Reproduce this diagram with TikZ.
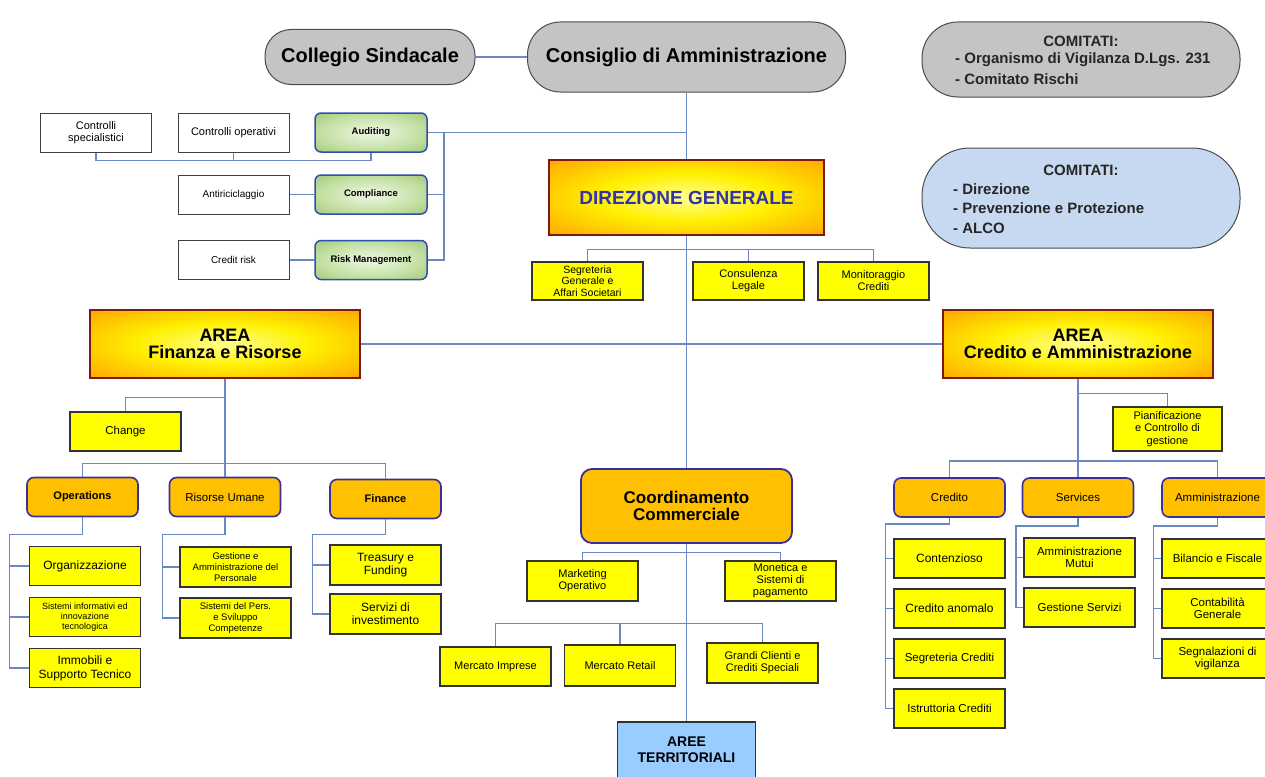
\documentclass[tikz,border=0pt]{standalone}
\usepackage{fontspec}
\setmainfont{Liberation Sans}
\definecolor{linkblue}{HTML}{6A88C2}
\definecolor{boxyellow}{HTML}{FFFF00}
\definecolor{boxorange}{HTML}{FFC000}
\definecolor{indigoline}{HTML}{3B2F9A}
\definecolor{pillgray}{HTML}{C4C4C4}
\definecolor{pillblue}{HTML}{C6D9F0}
\definecolor{areeblue}{HTML}{99CCFF}
\definecolor{dgtext}{HTML}{3333A8}
\definecolor{darkredline}{HTML}{7A1A10}
\definecolor{greenline}{HTML}{2F4FB0}
\definecolor{gcenter}{HTML}{EEF8E4}
\definecolor{gmid}{HTML}{C4E0A4}
\definecolor{gedge}{HTML}{7FB04F}
\definecolor{acenter}{HTML}{FFFF90}
\definecolor{ayel}{HTML}{FFF000}
\definecolor{amid}{HTML}{FFB000}
\definecolor{aedge}{HTML}{FF3000}
\definecolor{acorner}{HTML}{D01000}
\pgfdeclareradialshading{areashade}{\pgfpoint{0bp}{0bp}}{color(0bp)=(acenter); color(16bp)=(ayel); color(33bp)=(amid); color(48bp)=(aedge); color(72bp)=(acorner)}
\pgfdeclareradialshading{greenshade}{\pgfpoint{0bp}{0bp}}{color(0bp)=(gcenter); color(22bp)=(gmid); color(50bp)=(gedge); color(72bp)=(gedge)}
\begin{document}
\begin{tikzpicture}[x=1pt,y=-1pt,
  conn/.style={draw=linkblue,line width=1.5pt},
  basebox/.style={rectangle,minimum width=111pt,minimum height=39pt,inner sep=1pt,align=center,font=\fontsize{11.5}{12.5}\selectfont},
  ybox/.style={basebox,fill=boxyellow,draw=black!80,line width=1.2pt},
  obox/.style={basebox,rounded corners=7pt,fill=boxorange,draw=indigoline,line width=1.6pt},
  wbox/.style={basebox,fill=white,draw=black!75,line width=1pt},
  gbox/.style={basebox,minimum width=112pt,rounded corners=6pt,shade,shading=greenshade,draw=greenline,line width=1.5pt,font=\bfseries\fontsize{9.5}{11}\selectfont},
  areabox/.style={rectangle,inner sep=1pt,align=center,shade,shading=areashade,draw=darkredline,line width=2.5pt},
  pill/.style={rectangle,inner sep=0pt,draw=black!70,line width=1pt,fill=pillgray},
  comtext/.style={inner sep=0pt,font=\bfseries\fontsize{15}{17}\selectfont,text=black!85}
]
\useasboundingbox (0,0) rectangle (1265,776);
\clip (0,0) rectangle (1265,776);
\fill[white] (0,0) rectangle (1265,776);

% ---- top ----
\node[pill,minimum width=210pt,minimum height=55pt,rounded corners=26pt,font=\bfseries\fontsize{20}{22}\selectfont] (cs) at (370,57) {Collegio Sindacale};
\node[pill,minimum width=318pt,minimum height=70pt,rounded corners=33pt,font=\bfseries\fontsize{20}{22}\selectfont] (cda) at (686.5,57) {Consiglio di Amministrazione};

\node[pill,minimum width=318pt,minimum height=75pt,rounded corners=36pt] (com1) at (1081,59.5) {};
\node[comtext] (com1h) at (1081,41) {COMITATI:};
\node[comtext,anchor=west] (com1a) at (955,60) {- Organismo di Vigilanza D.Lgs. 231};
\node[comtext,anchor=west] (com1b) at (955,79) {- Comitato Rischi};

\node[pill,fill=pillblue,minimum width=318pt,minimum height=100pt,rounded corners=48pt] (com2) at (1081,198) {};
\node[comtext] (com2h) at (1081,170) {COMITATI:};
\node[comtext,anchor=west] (com2a) at (953,189) {- Direzione};
\node[comtext,anchor=west] (com2b) at (953,208.5) {- Prevenzione e Protezione};
\node[comtext,anchor=west] (com2c) at (953,228) {- ALCO};

% ---- controls ----
\node[wbox,font=\fontsize{11}{12}\selectfont] (ctrs) at (96,132.5) {Controlli\\specialistici};
\node[wbox,font=\fontsize{11}{12}\selectfont] (ctro) at (233.5,132.5) {Controlli operativi};
\node[gbox] (aud) at (371,132.5) {Auditing};
\node[wbox,font=\fontsize{10}{12}\selectfont] (anti) at (233.5,194.5) {Antiriciclaggio};
\node[gbox] (comp) at (371,194.5) {Compliance};
\node[wbox,font=\fontsize{10}{12}\selectfont] (crisk) at (233.5,260) {Credit risk};
\node[gbox] (risk) at (371,260) {Risk Management};

% ---- direzione generale ----
\node[areabox,minimum width=275pt,minimum height=75pt,text=dgtext,font=\bfseries\fontsize{19}{21}\selectfont] (dg) at (686.5,197.5) {DIREZIONE GENERALE};
\node[ybox,minimum height=38pt,font=\fontsize{10.5}{11.5}\selectfont] (seg) at (587.5,281) {Segreteria\\Generale e\\Affari Societari};
\node[ybox,minimum height=38pt,font=\fontsize{11}{12}\selectfont] (cons) at (748.5,281) {Consulenza\\Legale};
\node[ybox,minimum height=38pt,font=\fontsize{11}{12}\selectfont] (mon) at (873.5,281) {Monitoraggio\\Crediti};

% ---- areas ----
\node[areabox,minimum width=270pt,minimum height=68pt,font=\bfseries\fontsize{18}{17.5}\selectfont] (fin) at (225,344) {AREA\\Finanza e Risorse};
\node[areabox,minimum width=270pt,minimum height=68pt,font=\bfseries\fontsize{18}{17.5}\selectfont] (cred) at (1078,344) {AREA\\Credito e Amministrazione};

% ---- finanza e risorse ----
\node[ybox] (change) at (125.5,431.5) {Change};
\node[obox,font=\bfseries\fontsize{11}{12}\selectfont] (ops) at (82.5,497) {Operations};
\node[obox] (ru) at (225,497) {Risorse Umane};
\node[obox,font=\bfseries\fontsize{11}{12}\selectfont] (fina) at (385.5,499) {Finance};

\node[ybox,font=\fontsize{12}{13}\selectfont] (org) at (85,566) {Organizzazione};
\node[ybox,font=\fontsize{9}{10}\selectfont] (sis) at (85,617) {Sistemi informativi ed\\innovazione\\tecnologica};
\node[ybox,font=\fontsize{12}{14}\selectfont] (imm) at (85,668) {Immobili e\\Supporto Tecnico};

\node[ybox,minimum height=40pt,font=\fontsize{9.5}{11}\selectfont] (ges) at (235.5,567) {Gestione e\\Amministrazione del\\Personale};
\node[ybox,minimum height=40pt,font=\fontsize{9.5}{11}\selectfont] (spers) at (235.5,618) {Sistemi del Pers.\\e Sviluppo\\Competenze};

\node[ybox,minimum height=40pt,font=\fontsize{12}{13}\selectfont] (treas) at (385.5,565) {Treasury e\\Funding};
\node[ybox,minimum height=40pt,font=\fontsize{12}{13}\selectfont] (serinv) at (385.5,614) {Servizi di\\investimento};

% ---- coordinamento commerciale ----
\node[basebox,minimum width=211pt,minimum height=74pt,rounded corners=11pt,fill=boxorange,draw=indigoline,line width=1.8pt,font=\bfseries\fontsize{17}{17}\selectfont] (coord) at (686.5,506) {Coordinamento\\Commerciale};
\node[ybox,minimum height=40pt,font=\fontsize{11}{12}\selectfont] (mkt) at (582.5,581) {Marketing\\Operativo};
\node[ybox,minimum height=40pt,font=\fontsize{11}{12}\selectfont] (monet) at (780.5,581) {Monetica e\\Sistemi di\\pagamento};
\node[ybox,font=\fontsize{11}{12}\selectfont] (imp) at (495.5,666.5) {Mercato Imprese};
\node[ybox,minimum height=41pt,font=\fontsize{11}{12}\selectfont] (ret) at (620,665.5) {Mercato Retail};
\node[ybox,minimum height=40pt,font=\fontsize{11}{12}\selectfont] (gra) at (762.5,663) {Grandi Clienti e\\Crediti Speciali};
\node[basebox,minimum width=138pt,minimum height=56pt,fill=areeblue,draw=black!80,line width=1.2pt,font=\bfseries\fontsize{14}{16}\selectfont] (aree) at (686.5,750) {AREE\\TERRITORIALI};

% ---- credito e amministrazione ----
\node[ybox,minimum width=109pt,minimum height=44pt,font=\fontsize{11}{12.5}\selectfont] (pian) at (1167.5,429) {Pianificazione\\e Controllo di\\gestione};
\node[obox] (credo) at (949.5,497.5) {Credito};
\node[obox] (serv) at (1078,497.5) {Services};
\node[obox] (amm) at (1217.5,497.5) {Amministrazione};

\node[ybox,font=\fontsize{12}{13}\selectfont] (cont) at (949.5,558.5) {Contenzioso};
\node[ybox,font=\fontsize{12}{13}\selectfont] (canom) at (949.5,608.5) {Credito anomalo};
\node[ybox] (segc) at (949.5,658.5) {Segreteria Crediti};
\node[ybox] (istr) at (949.5,708.5) {Istruttoria Crediti};

\node[ybox] (mutui) at (1079.5,557.5) {Amministrazione\\Mutui};
\node[ybox] (gserv) at (1079.5,607.5) {Gestione Servizi};

\node[ybox] (bil) at (1217.5,558.5) {Bilancio e Fiscale};
\node[ybox] (contab) at (1217.5,608.5) {Contabilità\\Generale};
\node[ybox] (segn) at (1217.5,658.5) {Segnalazioni di\\vigilanza};

% ---- connectors ----
\draw[conn] (cs.east) -- (cda.west);
\draw[conn] (cda.south) -- (dg.north);
\draw[conn] (aud.east) -- (aud.east -| cda.south);
\draw[conn] (aud.east) -- ++(16,0) coordinate (gs) |- (risk.east);
\draw[conn] (comp.east) -- (comp.east -| gs);
\draw[conn] (ctrs.south) -- ++(0,8) -| (aud.south);
\draw[conn] (ctro.south) -- ++(0,8);
\draw[conn] (anti.east) -- (comp.west);
\draw[conn] (crisk.east) -- (risk.west);

\draw[conn] (dg.south) -- (coord.north);
\draw[conn] (seg.north) -- ++(0,-12) -| (mon.north);
\draw[conn] (cons.north) -- ++(0,-12);

\draw[conn] (fin.east) -- (cred.west);

\draw[conn] (fin.south) -- ++(0,87);
\draw[conn] (fin.south) ++(0,18) -| (change.north);
\draw[conn] (ops.north) -- ++(0,-13) -| (fina.north);
\draw[conn] (ru.north) -- ++(0,-13);

\draw[conn] (ops.south) -- ++(0,17) -| ([xshift=-19.5pt]imm.west) -- (imm.west);
\draw[conn] (org.west) -- ++(-19.5,0);
\draw[conn] (sis.west) -- ++(-19.5,0);
\draw[conn] (ru.south) -- ++(0,17) -| ([xshift=-17pt]spers.west) -- (spers.west);
\draw[conn] (ges.west) -- ++(-17,0);
\draw[conn] (fina.south) -- ++(0,15) -| ([xshift=-17pt]serinv.west) -- (serinv.west);
\draw[conn] (treas.west) -- ++(-17,0);

\draw[conn] (coord.south) -- (aree.north);
\draw[conn] (mkt.north) -- ++(0,-8) -| (monet.north);
\draw[conn] (imp.north) -- ++(0,-23) coordinate (cbus) -| (gra.north);
\draw[conn] (ret.north) -- (ret.north |- cbus);

\draw[conn] (cred.south) -- ++(0,84);
\draw[conn] (cred.south) ++(0,14) -| (pian.north);
\draw[conn] (credo.north) -- ++(0,-16) -| (amm.north);
\draw[conn] (serv.north) -- ++(0,-16);

\draw[conn] (credo.south) -- ++(0,6) -| ([xshift=-8pt]istr.west) -- (istr.west);
\draw[conn] (cont.west) -- ++(-8,0);
\draw[conn] (canom.west) -- ++(-8,0);
\draw[conn] (segc.west) -- ++(-8,0);
\draw[conn] (serv.south) -- ++(0,8) -| ([xshift=-7.5pt]gserv.west) -- (gserv.west);
\draw[conn] (mutui.west) -- ++(-7.5,0);
\draw[conn] (amm.south) -- ++(0,8) -| ([xshift=-8pt]segn.west) -- (segn.west);
\draw[conn] (bil.west) -- ++(-8,0);
\draw[conn] (contab.west) -- ++(-8,0);
\end{tikzpicture}
\end{document}
